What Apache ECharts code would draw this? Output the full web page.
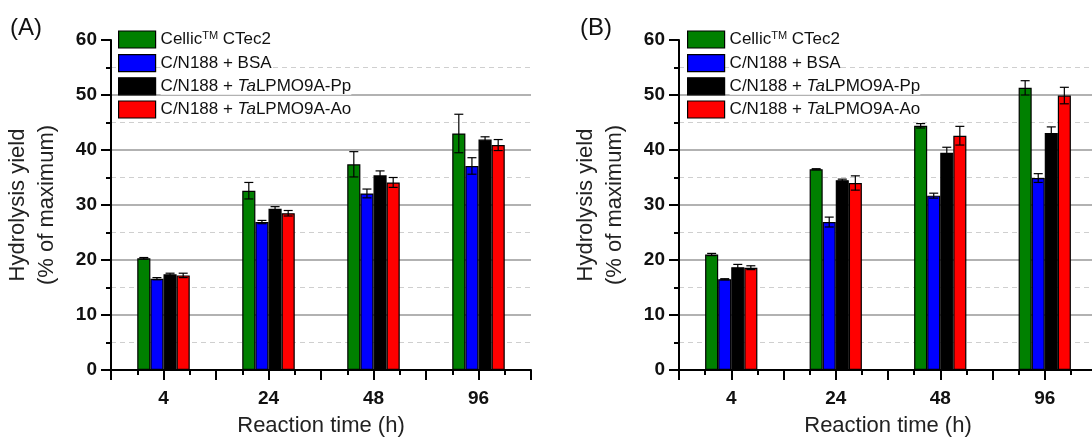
<!DOCTYPE html>
<html>
<head>
<meta charset="utf-8">
<script src="https://cdn.jsdelivr.net/npm/echarts@6/dist/echarts.min.js"></script>
<style>
html,body{margin:0;padding:0;background:#fff;}
#c{width:1092px;height:437px;}
</style>
</head>
<body>
<div id="c"></div>
<script>
// ---- data ----
const categories = ['4', '24', '48', '96'];
const seriesNames = ['Cellic CTec2', 'C/N188 + BSA', 'C/N188 + TaLPMO9A-Pp', 'C/N188 + TaLPMO9A-Ao'];
const yTicks = [0, 10, 20, 30, 40, 50, 60];

// Panel A
const A_ctec2 = [20.3, 32.6, 37.4, 43.0];
const A_ctec2_err = [0.15, 1.5, 2.3, 3.5];
const A_bsa = [16.6, 26.9, 32.1, 37.1];
const A_bsa_err = [0.2, 0.3, 0.8, 1.5];
const A_pp = [17.4, 29.3, 35.4, 41.9];
const A_pp_err = [0.2, 0.4, 0.8, 0.5];
const A_ao = [17.2, 28.5, 34.1, 40.9];
const A_ao_err = [0.4, 0.5, 0.9, 1.0];

// Panel B
const B_ctec2 = [21.0, 36.5, 44.4, 51.3];
const B_ctec2_err = [0.2, 0.1, 0.4, 1.3];
const B_bsa = [16.5, 26.9, 31.7, 34.9];
const B_bsa_err = [0.1, 0.9, 0.45, 0.8];
const B_pp = [18.7, 34.5, 39.5, 43.1];
const B_pp_err = [0.5, 0.2, 1.0, 1.1];
const B_ao = [18.6, 34.0, 42.6, 49.9];
const B_ao_err = [0.35, 1.3, 1.7, 1.5];

const colors = ['#008000', '#0000ff', '#000000', '#ff0000'];

// ---- build ----
const FONT = '"Liberation Sans", Arial, sans-serif';
const panels = [
  { vals: [A_ctec2, A_bsa, A_pp, A_ao], errs: [A_ctec2_err, A_bsa_err, A_pp_err, A_ao_err] },
  { vals: [B_ctec2, B_bsa, B_pp, B_ao], errs: [B_ctec2_err, B_bsa_err, B_pp_err, B_ao_err] }
];

function errRenderer(k) {
  return function (params, api) {
    const x = api.value(0), v = api.value(1), e = api.value(2);
    const band = api.size([1, 0])[0];
    const bw = band * 0.125;
    const off = (k - 1.5) * bw;
    const top = api.coord([x, v + e]);
    const bot = api.coord([x, v - e]);
    const cx = top[0] + off;
    const half = 4.5;
    const st = { stroke: '#000', lineWidth: 1.2 };
    return {
      type: 'group',
      children: [
        { type: 'line', shape: { x1: cx, y1: top[1], x2: cx, y2: bot[1] }, style: st },
        { type: 'line', shape: { x1: cx - half, y1: top[1], x2: cx + half, y2: top[1] }, style: st },
        { type: 'line', shape: { x1: cx - half, y1: bot[1], x2: cx + half, y2: bot[1] }, style: st }
      ]
    };
  };
}

const grids = [
  { left: 111, top: 40, width: 420, height: 330, outerBoundsMode: 'none', containLabel: false },
  { left: 679, top: 40, width: 418, height: 330, outerBoundsMode: 'none', containLabel: false }
];

const xAxes = [], yAxes = [], series = [], legends = [];
panels.forEach((p, gi) => {
  xAxes.push({
    type: 'category', gridIndex: gi, data: categories, position: 'bottom',
    name: 'Reaction time (h)', nameLocation: 'middle', nameGap: 45,
    nameTextStyle: { fontSize: 22, color: '#222', fontFamily: FONT },
    axisLine: { lineStyle: { color: '#000', width: 2 } },
    axisTick: { show: false },
    axisLabel: { fontSize: 19, fontWeight: 'bold', color: '#111', margin: 19, fontFamily: FONT },
    splitLine: { show: false },
    z: 5
  });
  xAxes.push({
    type: 'value', gridIndex: gi, min: 0, max: 4, interval: 0.5, position: 'bottom',
    axisLine: { show: false, onZero: false },
    axisLabel: { show: false },
    splitLine: { show: false },
    axisTick: { show: true, inside: false, length: 10, lineStyle: { color: '#000', width: 2 } },
    minorTick: { show: true, splitNumber: 2, length: 5, lineStyle: { color: '#000', width: 2 } }
  });
  yAxes.push({
    type: 'value', gridIndex: gi, min: yTicks[0], max: yTicks[yTicks.length - 1], interval: 10,
    name: 'Hydrolysis yield\n(% of maximum)', nameLocation: 'middle', nameGap: 50,
    nameTextStyle: { fontSize: 22, color: '#222', lineHeight: 29, fontFamily: FONT },
    axisLine: { show: true, lineStyle: { color: '#000', width: 2 } },
    axisTick: { show: true, inside: false, length: 10, lineStyle: { color: '#000', width: 2 } },
    minorTick: { show: true, splitNumber: 2, length: 5, lineStyle: { color: '#000', width: 2 } },
    axisLabel: { fontSize: 19, fontWeight: 'bold', color: '#111', margin: 14, fontFamily: FONT },
    splitLine: { show: true, showMaxLine: false, showMinLine: false, lineStyle: { color: '#999', width: 1.6 } },
    minorSplitLine: { show: true, lineStyle: { color: '#cfcfcf', width: 1.2, type: [5, 4] } }
  });
  p.vals.forEach((vals, k) => {
    series.push({
      name: seriesNames[k], type: 'bar', xAxisIndex: gi * 2, yAxisIndex: gi,
      data: vals, barWidth: '12.5%', barGap: '0%',
      itemStyle: { color: colors[k], borderColor: '#000', borderWidth: 1.2 },
      z: 2
    });
  });
  p.vals.forEach((vals, k) => {
    series.push({
      name: 'err' + gi + k, type: 'custom', xAxisIndex: gi * 2, yAxisIndex: gi,
      data: vals.map((v, i) => [i, v, p.errs[k][i]]),
      encode: { x: 0, y: 1 },
      renderItem: errRenderer(k), z: 3, silent: true
    });
  });
  legends.push({
    data: seriesNames, orient: 'vertical',
    left: gi === 0 ? 118 : 687, top: 30, padding: 0,
    itemWidth: 37, itemHeight: 17, itemGap: 5, icon: 'rect',
    selectedMode: false,
    itemStyle: { borderColor: '#000', borderWidth: 1.2 },
    formatter: function (name) {
      if (name === 'Cellic CTec2') return '{n|Cellic}{sup|TM}{n| CTec2}';
      const m = name.match(/^(.*\+ )Ta(.*)$/);
      if (m) return '{n|' + m[1] + '}{i|Ta}{n|' + m[2] + '}';
      return '{n|' + name + '}';
    },
    textStyle: {
      backgroundColor: '#fff',
      rich: {
        n: { fontSize: 17, color: '#111', fontFamily: FONT },
        i: { fontSize: 17, color: '#111', fontStyle: 'italic', fontFamily: FONT },
        sup: { fontSize: 11, color: '#111', verticalAlign: 'top', fontFamily: FONT, padding: [0, 0, 8, 0] }
      }
    }
  });
});

const chart = echarts.init(document.getElementById('c'), null, { renderer: 'canvas' });
chart.setOption({
  animation: false,
  backgroundColor: '#fff',
  textStyle: { fontFamily: FONT },
  title: [
    { text: '(A)', left: 10, top: 16, padding: 0, textStyle: { fontSize: 24, fontWeight: 'normal', color: '#111', fontFamily: FONT } },
    { text: '(B)', left: 580, top: 16, padding: 0, textStyle: { fontSize: 24, fontWeight: 'normal', color: '#111', fontFamily: FONT } }
  ],
  grid: grids,
  xAxis: xAxes,
  yAxis: yAxes,
  legend: legends,
  series: series
});
</script>
</body>
</html>
